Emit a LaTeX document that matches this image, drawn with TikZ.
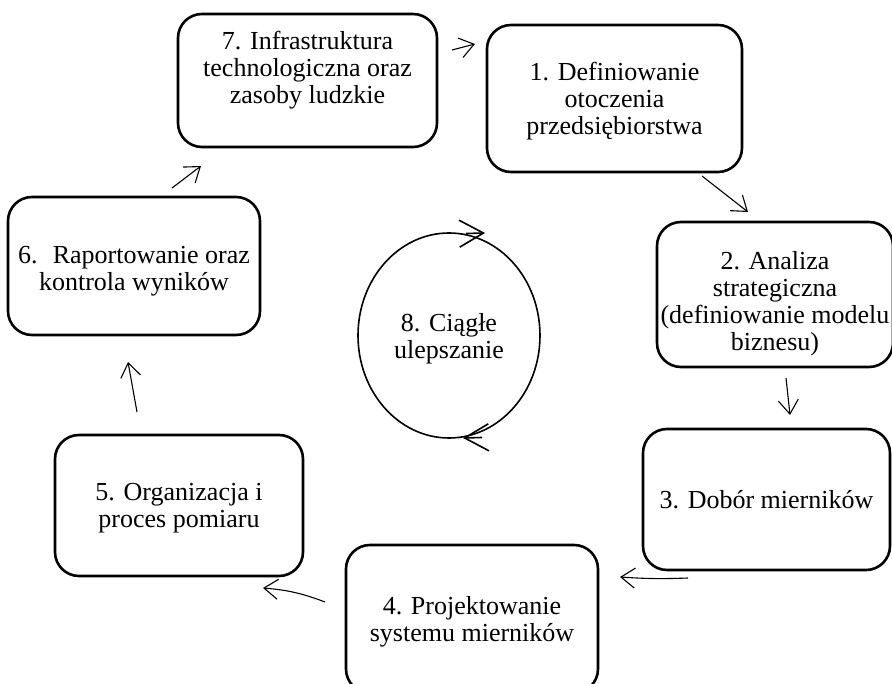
\documentclass[tikz,border=0pt]{standalone}
\usepackage{fontspec}
\setmainfont{Liberation Serif}
\usetikzlibrary{arrows.meta,shapes.geometric}

\tikzset{
  stage/.style={draw, line width=2.6pt, rounded corners=24pt, align=center, inner sep=0pt, text depth=0pt},
  flow/.style={line width=1.1pt, -{Straight Barb[length=14pt,width=20pt,line width=1.1pt]}},
  turn/.style={line width=1.6pt, -{Straight Barb[length=24pt,width=27pt,line width=1.6pt]}}
}

\begin{document}
\begin{tikzpicture}[x=1pt,y=-1pt,font=\fontsize{26}{27}\selectfont]
\useasboundingbox (0,0) rectangle (892,684);
\clip (0,0) rectangle (892,684);

% the seven stages
\node[stage, minimum width=259pt, minimum height=133pt] (infra) at (307.5,80.5) {7. Infrastruktura\\technologiczna oraz\\zasoby ludzkie\\[0pt]\mbox{}};
\node[stage, minimum width=255pt, minimum height=147pt] (otoczenie) at (614.5,98.5) {1. Definiowanie\\otoczenia\\przedsiębiorstwa};
\node[stage, minimum width=236pt, minimum height=145pt] (analiza) at (775,294.5) {\mbox{}\\[5pt]2. Analiza\\strategiczna\\(definiowanie modelu\\biznesu)};
\node[stage, minimum width=247pt, minimum height=141pt] (dobor) at (766.5,499.5) {3. Dobór mierników};
\node[stage, minimum width=252pt, minimum height=148pt] (projekt) at (472,619) {4. Projektowanie\\systemu mierników};
\node[stage, minimum width=248pt, minimum height=141pt] (organizacja) at (179,505.5) {5. Organizacja i\\proces pomiaru};
\node[stage, minimum width=252pt, minimum height=138pt] (raport) at (134,266) {\mbox{}\\[-4pt]6.~ Raportowanie oraz\\kontrola wyników};

% the cycle in the middle
\node[draw, ellipse, line width=1.6pt, minimum width=182pt, minimum height=205pt, align=center, inner sep=0pt, text depth=0pt] (ulepsz) at (449,335.5) {8. Ciągłe\\ulepszanie};

% arrows between stages
\coordinate (t71) at (452,50);  \coordinate (h71) at (475,44);
\coordinate (t12) at (702,176); \coordinate (h12) at (748,212);
\coordinate (t23) at (786,378); \coordinate (h23) at (790,415);
\coordinate (t34) at (688,578); \coordinate (h34) at (620,577);
\coordinate (t45) at (325,602); \coordinate (h45) at (263,588);
\coordinate (t56) at (137,412); \coordinate (h56) at (128,362);
\coordinate (t67) at (172,188); \coordinate (h67) at (201,166);

\draw[flow] (t71) -- (h71);
\draw[flow] (t12) -- (h12);
\draw[flow] (t23) -- (h23);
\draw[flow] (t34) to[bend left=3] (h34);
\draw[flow] (t45) to[bend right=8] (h45);
\draw[flow] (t56) -- (h56);
\draw[flow] (t67) -- (h67);

% tips on the cycle
\coordinate (c1) at (466,233.5); \coordinate (c2) at (485,233);
\coordinate (c3) at (482,437.5); \coordinate (c4) at (463,438);
\draw[turn] (c1) -- (c2);
\draw[turn] (c3) -- (c4);
\end{tikzpicture}
\end{document}
